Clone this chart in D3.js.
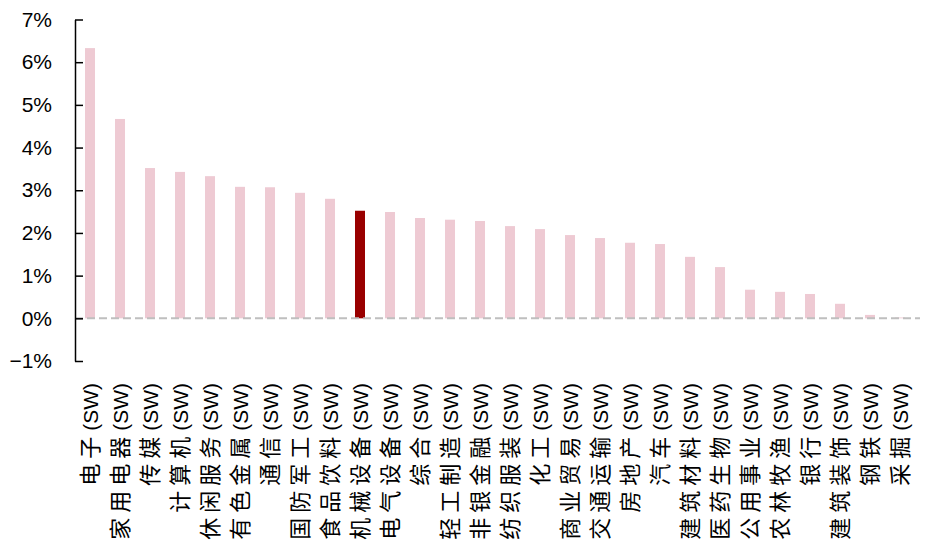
<!DOCTYPE html>
<html>
<head>
<meta charset="utf-8">
<script src="https://cdn.jsdelivr.net/npm/d3@7"></script>
<style>
  html, body { margin: 0; padding: 0; background: #fff; }
  svg { display: block; }
</style>
</head>
<body>
<svg id="chart" width="926" height="544"></svg>
<script>
// Industry names (Shenwan level-1) and period returns, in %
const industries = ["电子","家用电器","传媒","计算机","休闲服务","有色金属","通信","国防军工","食品饮料","机械设备",
  "电气设备","综合","轻工制造","非银金融","纺织服装","化工","商业贸易","交通运输","房地产","汽车",
  "建筑材料","医药生物","公用事业","农林牧渔","银行","建筑装饰","钢铁","采掘"];
const returns = [6.33, 4.67, 3.52, 3.43, 3.33, 3.08, 3.07, 2.94, 2.80, 2.52,
  2.49, 2.35, 2.31, 2.28, 2.16, 2.09, 1.95, 1.88, 1.77, 1.74,
  1.44, 1.20, 0.67, 0.62, 0.57, 0.34, 0.08, 0.02];
const highlighted = ["机械设备"];
const yTicks = [-1, 0, 1, 2, 3, 4, 5, 6, 7];

const svg = d3.select("#chart");
const plotLeft = 75, plotRight = 915, plotTop = 19.5, plotBottom = 361;

const x = d3.scaleBand().domain(industries).range([plotLeft, plotRight]).paddingInner(2 / 3).paddingOuter(1 / 3);
const y = d3.scaleLinear().domain([-1, 7]).range([plotBottom, plotTop]);

// Bars
svg.append("g").selectAll("rect").data(industries).join("rect")
  .attr("x", d => x(d))
  .attr("width", x.bandwidth())
  .attr("y", (d, i) => y(Math.max(0, returns[i])))
  .attr("height", (d, i) => Math.abs(y(returns[i]) - y(0)))
  .attr("fill", d => highlighted.includes(d) ? "#990000" : "#EECAD3");

// Dashed zero line
svg.append("line")
  .attr("x1", plotLeft).attr("x2", 920)
  .attr("y1", y(0)).attr("y2", y(0))
  .attr("stroke", "#bfbfbf").attr("stroke-width", 2)
  .attr("stroke-dasharray", "8,4");

// Y axis with inward ticks
const yAxis = d3.axisLeft(y).tickValues(yTicks).tickSizeInner(-8).tickSizeOuter(0)
  .tickFormat(d => (d < 0 ? "\u2212" + Math.abs(d) : d) + "%");
const gy = svg.append("g").attr("transform", `translate(${plotLeft},0)`).call(yAxis);
gy.select(".domain").attr("stroke", "#000").attr("stroke-width", 1.5);
gy.selectAll(".tick line").attr("stroke", "#000").attr("stroke-width", 1.5);
gy.selectAll(".tick text")
  .attr("x", -23)
  .attr("fill", "#000")
  .style("font-family", "'Liberation Sans', Arial, sans-serif")
  .style("font-size", "21px");

// Vertical category labels
const labels = svg.append("g").selectAll("text").data(industries).join("text")
  .attr("transform", d => `translate(${x(d) + x.bandwidth() / 2 + 8},383) rotate(-90)`)
  .attr("text-anchor", "end")
  .attr("fill", "#000");
labels.append("tspan")
  .style("font-family", "'Noto Sans CJK SC', sans-serif")
  .style("font-size", "22px")
  .style("letter-spacing", "5px")
  .text(d => d);
labels.append("tspan")
  .attr("dx", 1)
  .style("font-family", "'Liberation Sans', Arial, sans-serif")
  .style("font-size", "21px")
  .text("(SW)");
</script>
</body>
</html>
